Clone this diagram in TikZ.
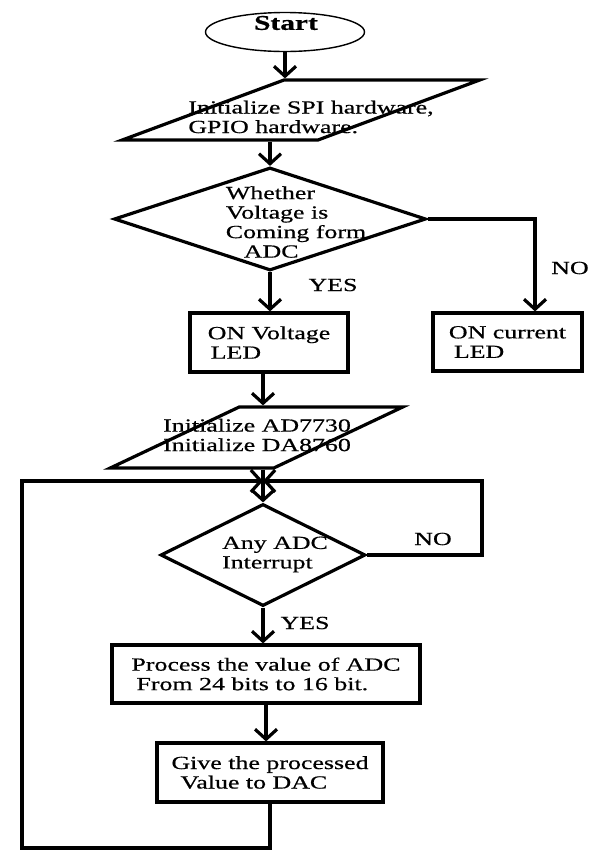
\documentclass[tikz,border=0pt]{standalone}
\usepackage{fontspec}
\setmainfont{Liberation Serif}[FakeStretch=1.4, FakeBold=0.6]
\usetikzlibrary{shapes.geometric,arrows.meta}

\begin{document}
\begin{tikzpicture}
    \tikzset{x=10pt, y=-10pt}
    \tikzstyle{txt}=[font=\fontsize{18.5}{19.5}\selectfont, inner sep=0pt, align=left]
    \tikzstyle{term}=[ellipse, draw, line width=1.4pt, minimum width=159pt, minimum height=39pt, inner sep=0pt]
    \tikzstyle{io}=[trapezium, draw, line width=3.2pt, trapezium stretches=true, inner sep=2pt]
    \tikzstyle{dec}=[diamond, draw, line width=3.2pt, inner sep=0pt]
    \tikzstyle{proc}=[rectangle, draw, line width=3.2pt, txt]
    \tikzstyle{arr}=[line width=3.2pt, -{Straight Barb[length=10pt, width=22pt, line width=3.2pt]}]
    \tikzstyle{lbl}=[txt]

    \useasboundingbox (0, 0) rectangle (60, 85.2);

    % start and first setup
    \draw (28.5, 3.2)   node[term]  (start)     {};
    \draw (28.6, 2.3)   node[txt, font=\fontsize{21}{22}\selectfont\bfseries] (starttxt) {Start};
    \draw (30.1, 11.0)  node[io, trapezium left angle=40, trapezium right angle=140,
                             minimum width=358pt, minimum height=60pt] (init1) {\strut};
    \draw (31.1, 11.7)  node[txt]   (init1txt)  {Initialize SPI hardware,\\GPIO hardware.};

    % voltage or current
    \draw (27.0, 21.9)  node[dec, minimum width=312pt, minimum height=103pt] (dec1) {};
    \draw (29.6, 22.2)  node[txt]   (dec1txt)   {Whether\\Voltage is\\Coming form\\\hspace*{18pt}ADC};
    \draw (26.9, 34.25) node[proc, minimum width=158pt, minimum height=59pt] (volt) {ON Voltage\\\hspace*{3pt}LED};
    \draw (50.75, 34.2) node[proc, minimum width=149pt, minimum height=58pt] (curr) {ON current\\\hspace*{5pt}LED};
    \coordinate (nob) at (53.5, 21.9);

    % converters
    \draw (25.65, 43.75) node[io, trapezium left angle=47, trapezium right angle=133,
                              minimum width=293pt, minimum height=61pt] (init2) {\strut};
    \draw (25.7, 43.5)  node[txt]   (init2txt)  {Initialize AD7730\\Initialize DA8760};

    % main loop
    \coordinate (join) at (26.3, 48.1);
    \draw (26.3, 55.5)  node[dec, minimum width=205pt, minimum height=102pt] (dec2) {};
    \draw (27.5, 55.45) node[txt]   (dec2txt)   {Any ADC\\Interrupt};
    \draw (26.6, 67.4)  node[proc, minimum width=308pt, minimum height=58pt] (conv) {Process the value of ADC\\\hspace*{5pt}From 24 bits to 16 bit.};
    \draw (27.0, 77.25) node[proc, minimum width=226pt, minimum height=59pt] (give) {Give the processed\\\hspace*{9pt}Value to DAC};
    \coordinate (lb) at (2.2, 84.8);
    \coordinate (rb) at (48.2, 48.1);

    % labels
    \draw (33.3, 28.5)  node[lbl]   (yes1)  {YES};
    \draw (57.0, 26.8)  node[lbl]   (no1)   {NO};
    \draw (43.3, 53.9)  node[lbl]   (no2)   {NO};
    \draw (30.5, 62.3)  node[lbl]   (yes2)  {YES};

    \draw [arr]     (start.south) -- (start.south |- init1.north);
    \draw [arr]     (init1.south -| dec1.north) -- (dec1.north);
    \draw [arr]     (dec1.south) -- (dec1.south |- volt.north);
    \draw [arr]     (dec1.east) -- (nob) -- (nob |- curr.north);
    \draw [arr]     (volt.south -| join) -- (join |- init2.north);
    \draw [line width=3.2pt] (init2.south -| join) -- (join);
    \draw [arr]     (join) -- (dec2.north);
    \draw [arr]     (dec2.east) -| (rb) -- (join);
    \draw [arr]     (dec2.south) -- (dec2.south |- conv.north);
    \draw [arr]     (conv.south) -- (conv.south |- give.north);
    \draw [arr]     (give.south) |- (lb) |- (join);
\end{tikzpicture}
\end{document}
